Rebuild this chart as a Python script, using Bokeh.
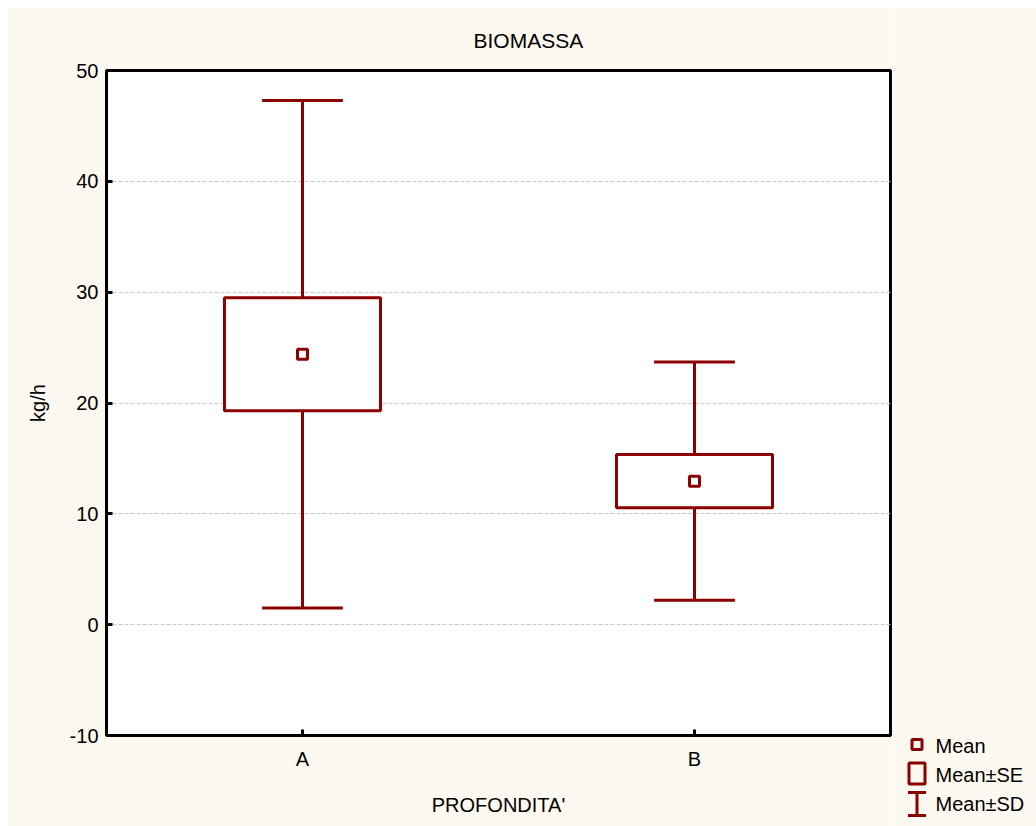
from bokeh.plotting import figure
from bokeh.models import FactorRange, Range1d, ColumnDataSource, Spacer, PrintfTickFormatter
from bokeh.layouts import row, column
from bokeh.transform import dodge
from bokeh.embed import file_html
from bokeh.resources import INLINE
from bokeh.core.properties import value

# Biomass by depth class: mean, standard error and standard deviation
groups = ["A", "B"]
means = [24.4, 12.95]
se = [5.1, 2.4]
sd = [22.9, 10.75]
y_ticks = [-10, 0, 10, 20, 30, 40, 50]

legend_labels = ["Mean", "Mean\u00b1SE", "Mean\u00b1SD"]

RED = "#8b0000"
CREAM = "#fef9f0"
FONT = "Liberation Sans"

src = ColumnDataSource(dict(
    g=groups,
    mean=means,
    se_lo=[m - s for m, s in zip(means, se)],
    se_hi=[m + s for m, s in zip(means, se)],
    sd_lo=[m - s for m, s in zip(means, sd)],
    sd_hi=[m + s for m, s in zip(means, sd)],
))

p = figure(
    x_range=FactorRange(factors=groups, range_padding=0),
    y_range=Range1d(-10, 50),
    width=884, height=819,
    output_backend="svg", toolbar_location=None,
    min_border_left=98, min_border_right=2,
    min_border_top=62, min_border_bottom=91,
    background_fill_color="white", border_fill_color=CREAM,
    outline_line_color="black", outline_line_width=3,
    title="BIOMASSA",
)
p.frame_align = False

p.title.text_font = FONT
p.title.text_font_size = "21px"
p.title.text_font_style = "normal"
p.title.text_color = "black"
p.title.align = "left"
p.title.offset = 367
p.title.standoff = 38

p.xgrid.visible = False
p.ygrid.grid_line_color = "#c8c8c8"
p.ygrid.grid_line_dash = "4 2"
p.ygrid.grid_line_width = 1

p.yaxis.ticker = y_ticks
p.yaxis.formatter = PrintfTickFormatter(format="%d")
for ax in (p.xaxis[0], p.yaxis[0]):
    ax.axis_line_color = None
    ax.major_tick_in = 6
    ax.major_tick_out = 0
    ax.major_tick_line_width = 3
    ax.major_tick_line_color = "black"
    ax.minor_tick_line_color = None
    ax.major_label_text_font = FONT
    ax.major_label_text_font_size = "20px"
    ax.major_label_text_color = "black"
    ax.axis_label_text_font = FONT
    ax.axis_label_text_font_size = "20px"
    ax.axis_label_text_font_style = "normal"
    ax.axis_label_text_color = "black"

p.xaxis.axis_label = "PROFONDITA'"
p.xaxis.major_label_standoff = 12
p.xaxis.axis_label_standoff = 21
p.yaxis.axis_label = "kg/h"
p.yaxis.major_label_standoff = 8
p.yaxis.axis_label_standoff = 18

# whisker stems (mean±SD), outside the SE box
p.segment(x0="g", y0="sd_lo", x1="g", y1="se_lo", source=src,
          line_color=RED, line_width=3)
p.segment(x0="g", y0="se_hi", x1="g", y1="sd_hi", source=src,
          line_color=RED, line_width=3)
# whisker caps
cap = 0.103
for col in ("sd_lo", "sd_hi"):
    p.segment(x0=dodge("g", -cap, range=p.x_range), y0=col,
              x1=dodge("g", cap, range=p.x_range), y1=col, source=src,
              line_color=RED, line_width=3)
# mean±SE box
p.vbar(x="g", bottom="se_lo", top="se_hi", width=0.398, source=src,
       fill_color="white", line_color=RED, line_width=3)
# mean marker
p.scatter(x="g", y="mean", source=src, marker="square", size=10,
          fill_color="white", line_color=RED, line_width=3)

# key panel to the right of the plot (pixel layout coordinates)
lf = figure(
    width=144, height=819,
    x_range=Range1d(0, 144), y_range=Range1d(819, 0),
    output_backend="svg", toolbar_location=None,
    x_axis_location=None, y_axis_location=None,
    min_border=0, min_border_left=0, min_border_right=0,
    min_border_top=0, min_border_bottom=0,
    background_fill_color=CREAM, border_fill_color=CREAM,
    outline_line_color=None,
)
lf.frame_align = False
lf.grid.visible = False

key_x = 24.5
key_mid = [737, 766, 796.5]
text_base = [738, 767, 796]

lf.scatter(x=[key_x], y=[key_mid[0]], marker="square", size=10,
           fill_color=None, line_color=RED, line_width=3)
lf.quad(left=[key_x - 8], right=[key_x + 8],
        top=[key_mid[1] - 10.5], bottom=[key_mid[1] + 10.5],
        fill_color=None, line_color=RED, line_width=3)
lf.segment(x0=[key_x, key_x - 9, key_x - 9],
           y0=[key_mid[2] - 11.5, key_mid[2] - 11.5, key_mid[2] + 11.5],
           x1=[key_x, key_x + 9, key_x + 9],
           y1=[key_mid[2] + 11.5, key_mid[2] - 11.5, key_mid[2] + 11.5],
           line_color=RED, line_width=3)
lf.text(x=[43] * 3, y=text_base, text=legend_labels,
        text_font=value(FONT), text_font_size="20px",
        text_color="black", text_baseline="alphabetic", text_align="left")

layout = column(Spacer(height=7), row(Spacer(width=8), p, lf))
open("out.html", "w").write(file_html(layout, INLINE))
